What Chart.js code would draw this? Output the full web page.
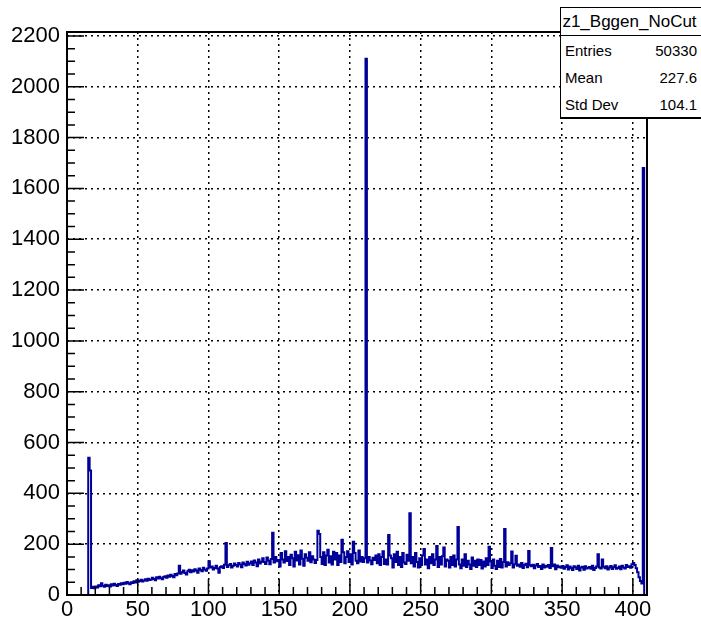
<!DOCTYPE html>
<html>
<head>
<meta charset="utf-8">
<title>z1_Bggen_NoCut</title>
<script src="https://cdn.jsdelivr.net/npm/chart.js@4.4.1/dist/chart.umd.min.js"></script>
<style>
  html, body { margin: 0; padding: 0; background: #fff; }
  #wrap { position: relative; width: 701px; height: 621px; overflow: hidden; }
  #stats {
    position: absolute; left: 560px; top: 7px; width: 142px; height: 112px;
    background: #fff; box-sizing: border-box;
    border-left: 1px solid #000; border-top: 1px solid #000; border-bottom: 2px solid #000;
    font-family: "Liberation Sans", Arial, sans-serif; color: #000;
  }
  #stats .title { height: 27px; line-height: 28px; font-size: 17px; text-align: center; border-bottom: 1px solid #000; padding-right: 4px; }
  #stats .row { height: 27px; line-height: 30px; font-size: 15px; display: flex; justify-content: space-between; padding: 0 5px 0 4px; }
</style>
</head>
<body>
<div id="wrap">
  <canvas id="hist" width="701" height="621"></canvas>
  <div id="stats"></div>
</div>
<script>
// histogram z1_Bggen_NoCut, 1 unit per bin, 0..410
const X_MIN = 0;
const X_MAX = 410;
const BIN_W = 1;
const Y_MAX = 2215.5;   // ROOT: max * 1.05

const xTicks = [0, 50, 100, 150, 200, 250, 300, 350, 400];
const yTicks = [0, 200, 400, 600, 800, 1000, 1200, 1400, 1600, 1800, 2000, 2200];

const counts = [
  0, 0, 0, 0, 0, 0, 0, 0, 0, 0,
  0, 0, 0, 0, 0, 0, 540, 490, 28, 32,
  27, 33, 30, 38, 34, 46, 36, 32, 40, 35,
  38, 33, 42, 37, 44, 39, 35, 43, 40, 46,
  42, 48, 44, 51, 46, 42, 50, 47, 54, 49,
  58, 52, 55, 60, 53, 57, 62, 56, 64, 59,
  61, 68, 63, 58, 70, 65, 72, 66, 62, 71,
  74, 68, 77, 72, 80, 75, 70, 83, 78, 85,
  115, 84, 90, 96, 87, 81, 93, 99, 90, 97,
  92, 101, 96, 88, 104, 98, 93, 107, 100, 95,
  104, 133, 108, 112, 100, 106, 115, 104, 88, 110,
  113, 106, 119, 205, 110, 117, 122, 108, 115, 124,
  118, 112, 126, 120, 109, 128, 122, 116, 131, 119,
  125, 132, 118, 136, 128, 113, 140, 124, 131, 145,
  130, 122, 148, 135, 121, 142, 245, 128, 150, 133,
  138, 112, 165, 140, 128, 172, 134, 150, 118, 158,
  145, 112, 170, 136, 156, 120, 175, 143, 115, 160,
  147, 135, 168, 129, 152, 140, 126, 138, 253, 240,
  150, 122, 168, 118, 155, 178, 128, 152, 120, 170,
  140, 165, 118, 155, 130, 217, 168, 125, 150, 172,
  130, 160, 120, 210, 165, 135, 125, 175, 132, 150,
  130, 145, 2110, 128, 150, 136, 121, 147, 138, 155,
  125, 160, 118, 150, 172, 122, 140, 120, 236, 155,
  145, 108, 160, 130, 170, 118, 150, 110, 165, 128,
  122, 158, 135, 322, 125, 150, 112, 165, 130, 108,
  145, 118, 155, 181, 120, 140, 105, 150, 125, 160,
  118, 140, 193, 110, 150, 120, 152, 187, 112, 140,
  135, 108, 150, 118, 155, 112, 140, 268, 120, 105,
  140, 115, 160, 110, 135, 120, 102, 148, 115, 135,
  110, 140, 118, 138, 104, 132, 112, 145, 118, 190,
  132, 106, 140, 115, 102, 135, 110, 142, 108, 130,
  260, 112, 129, 118, 125, 171, 108, 121, 154, 115,
  120, 111, 126, 106, 118, 123, 109, 173, 117, 113,
  119, 105, 116, 122, 110, 114, 102, 120, 108, 115,
  111, 118, 106, 185, 113, 120, 101, 116, 109, 112,
  107, 114, 103, 110, 117, 100, 112, 106, 98, 113,
  109, 102, 115, 96, 108, 111, 99, 113, 104, 107,
  110, 103, 115, 98, 106, 112, 160, 108, 104, 140,
  111, 105, 113, 100, 108, 114, 102, 109, 117, 103,
  106, 112, 101, 115, 108, 104, 118, 110, 113, 107,
  121, 126, 118, 105, 90, 70, 55, 45, 1680, 0
];

const statLabels = ['Entries', 'Mean', 'Std Dev'];
const statValues = ['50330', '227.6', '104.1'];
const histName = 'z1_Bggen_NoCut';

const FONT = '"Liberation Sans", Arial, sans-serif';
const LINE_COLOR = '#000099';

// stats box
const box = document.getElementById('stats');
box.innerHTML = `<div class="title">${histName}</div>` +
  statLabels.map((l, i) => `<div class="row"><span>${l}</span><span>${statValues[i]}</span></div>`).join('');

// histogram contour points: left edge of each bin + closing point
const points = counts.map((c, i) => ({ x: X_MIN + i * BIN_W, y: c }));
points.push({ x: X_MAX, y: counts[counts.length - 1] });

// ROOT style: ticks inside the frame, black box round the pad
const rootFrame = {
  id: 'rootFrame',
  afterDatasetsDraw(chart) {
    const { ctx, chartArea: a, scales: { x, y } } = chart;
    ctx.save();
    ctx.strokeStyle = '#000';
    ctx.lineWidth = 1.5;
    ctx.beginPath();
    for (let v = X_MIN; v <= X_MAX; v += 10) {
      const px = x.getPixelForValue(v);
      const len = v % 50 === 0 ? 16 : 8;
      ctx.moveTo(px, a.bottom);
      ctx.lineTo(px, a.bottom - len);
    }
    for (let v = 0; v <= Y_MAX; v += 50) {
      const py = y.getPixelForValue(v);
      const len = v % 200 === 0 ? 17 : 8;
      ctx.moveTo(a.left, py);
      ctx.lineTo(a.left + len, py);
    }
    ctx.stroke();
    ctx.lineWidth = 2;
    ctx.strokeRect(a.left, a.top, a.right - a.left, a.bottom - a.top);
    ctx.restore();
  }
};

new Chart(document.getElementById('hist'), {
  type: 'line',
  data: {
    datasets: [{
      data: points,
      stepped: 'after',
      borderColor: LINE_COLOR,
      borderWidth: 2,
      pointRadius: 0,
      fill: false
    }]
  },
  options: {
    responsive: false,
    animation: false,
    devicePixelRatio: 1,
    layout: { padding: { top: 32, right: 54, left: 0, bottom: 0 } },
    plugins: { legend: { display: false }, tooltip: { enabled: false } },
    scales: {
      x: {
        type: 'linear',
        min: X_MIN,
        max: X_MAX,
        afterBuildTicks: s => { s.ticks = xTicks.map(v => ({ value: v })); },
        afterFit: s => { s.height = 26; },
        grid: { color: '#000', lineWidth: 1.5, drawTicks: false },
        border: { display: false, dash: [2, 4] },
        ticks: {
          autoSkip: false,
          maxRotation: 0,
          padding: 2,
          color: '#000',
          font: { family: FONT, size: 22 }
        }
      },
      y: {
        min: 0,
        max: Y_MAX,
        afterBuildTicks: s => { s.ticks = yTicks.map(v => ({ value: v })); },
        afterFit: s => { s.width = 67; },
        grid: { color: '#000', lineWidth: 1.5, drawTicks: false },
        border: { display: false, dash: [2, 4] },
        ticks: {
          autoSkip: false,
          padding: 7,
          color: '#000',
          font: { family: FONT, size: 22 },
          callback: v => String(v)
        }
      }
    }
  },
  plugins: [rootFrame]
});
</script>
</body>
</html>
